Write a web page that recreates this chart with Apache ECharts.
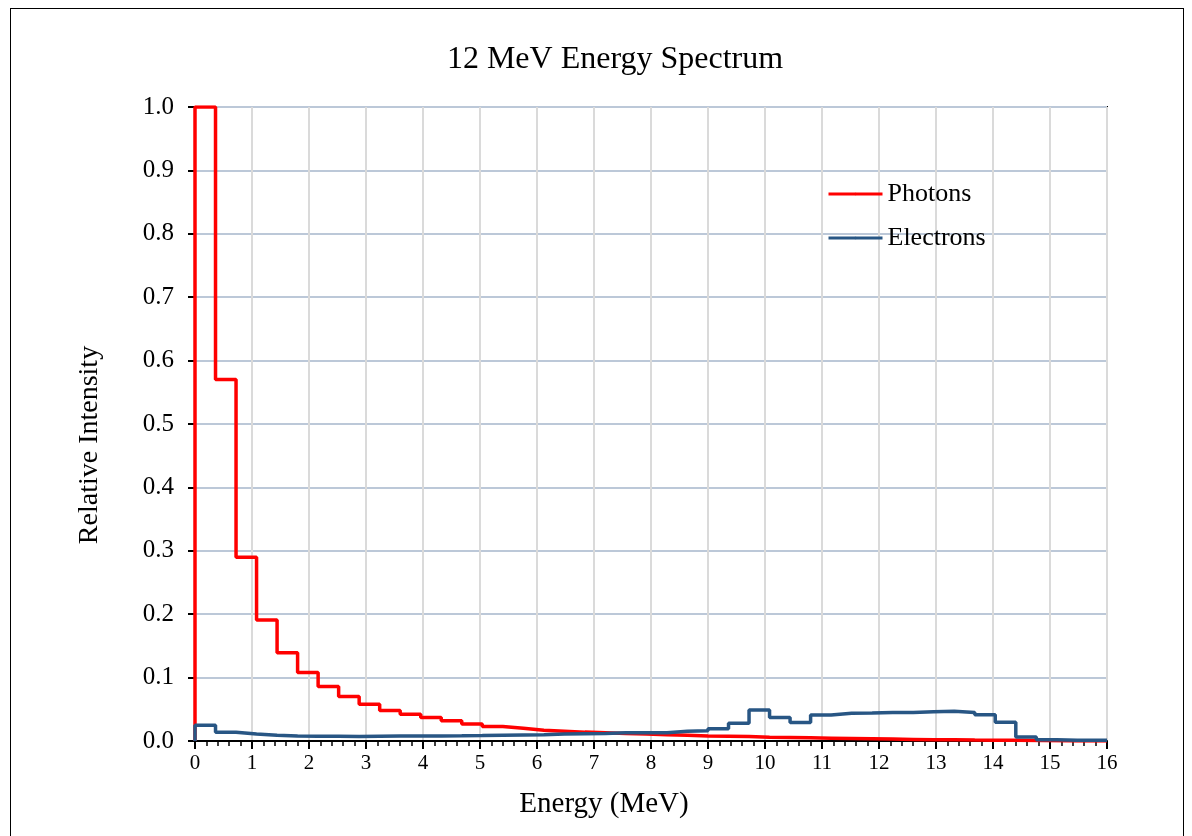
<!DOCTYPE html>
<html>
<head>
<meta charset="utf-8">
<script src="https://cdn.jsdelivr.net/npm/echarts@6/dist/echarts.min.js"></script>
<style>
html,body{margin:0;padding:0;background:#fff;}
#frame{position:absolute;left:10px;top:8px;width:1174px;height:840px;border:1.5px solid #000;box-sizing:border-box;}
#chart{position:absolute;left:0;top:0;width:1192px;height:836px;}
</style>
</head>
<body>
<div id="frame"></div>
<div id="chart"></div>
<script>
// Bin lower edges (MeV), bin width 0.36 MeV
const binEdges = [0, 0.36, 0.72, 1.08, 1.44, 1.8, 2.16, 2.52, 2.88, 3.24, 3.6, 3.96, 4.32, 4.68, 5.04, 5.4, 5.76, 6.12, 6.48, 6.84, 7.2, 7.56, 7.92, 8.28, 8.64, 9.0, 9.36, 9.72, 10.08, 10.44, 10.8, 11.16, 11.52, 11.88, 12.24, 12.6, 12.96, 13.32, 13.68, 14.04, 14.4, 14.76, 15.12, 15.48, 15.84];
const endEnergy = 16;
const photons = [1.0, 0.57, 0.29, 0.191, 0.139, 0.108, 0.086, 0.070, 0.058, 0.048, 0.042, 0.037, 0.032, 0.027, 0.023, 0.020, 0.017, 0.0155, 0.014, 0.013, 0.012, 0.011, 0.010, 0.009, 0.008, 0.0075, 0.007, 0.006, 0.0055, 0.005, 0.0045, 0.004, 0.0035, 0.003, 0.0025, 0.002, 0.002, 0.0015, 0.0012, 0.001, 0.0008, 0.0005, 0.0, 0.0, 0.0];
const electrons = [0.025, 0.0137, 0.011, 0.009, 0.0078, 0.0075, 0.0075, 0.0072, 0.0075, 0.0078, 0.008, 0.008, 0.0082, 0.0085, 0.009, 0.0095, 0.010, 0.011, 0.0115, 0.012, 0.013, 0.013, 0.013, 0.0155, 0.016, 0.0195, 0.028, 0.049, 0.037, 0.029, 0.041, 0.0437, 0.044, 0.045, 0.045, 0.046, 0.047, 0.045, 0.0415, 0.0295, 0.0063, 0.002, 0.001, 0.001, 0.001];
const yTicks = ['0.0','0.1','0.2','0.3','0.4','0.5','0.6','0.7','0.8','0.9','1.0'];
const titleText = '12 MeV Energy Spectrum';
const xName = 'Energy (MeV)';
const yName = 'Relative Intensity';

function stepData(vals) {
  const d = [[0, 0]];
  for (let i = 0; i < binEdges.length; i++) d.push([binEdges[i], vals[i]]);
  d.push([endEnergy, vals[vals.length - 1]]);
  return d;
}

const font = '"Liberation Serif", "Times New Roman", serif';
const chart = echarts.init(document.getElementById('chart'), null, {renderer: 'canvas'});
chart.setOption({
  animation: false,
  backgroundColor: 'transparent',
  graphic: [
    {type: 'text', x: 615, y: 60, style: {text: titleText, font: '32px ' + font, fill: '#000', align: 'center', verticalAlign: 'middle'}},
    {type: 'text', x: 604, y: 804, style: {text: xName, font: '29px ' + font, fill: '#000', align: 'center', verticalAlign: 'middle'}},
    {type: 'text', x: 90, y: 445, rotation: Math.PI / 2, style: {text: yName, font: '28px ' + font, fill: '#000', align: 'center', verticalAlign: 'middle'}}
  ],
  legend: {
    orient: 'vertical',
    left: 822, top: 176,
    itemWidth: 54, itemHeight: 3, itemGap: 18,
    textStyle: {fontFamily: font, fontSize: 26, color: '#000'},
    lineStyle: {width: 3},
    data: ['Photons', 'Electrons']
  },
  grid: {
    left: 195, right: 85, top: 107, bottom: 95,
    show: true, borderColor: '#000', borderWidth: 2
  },
  xAxis: {
    type: 'value', min: 0, max: 16, interval: 1,
    axisLine: {lineStyle: {color: '#000', width: 2}},
    axisTick: {show: true, length: 8, lineStyle: {color: '#000', width: 2}},
    minorTick: {show: true, splitNumber: 5, length: 5, lineStyle: {color: '#000', width: 1.5}},
    axisLabel: {fontFamily: font, fontSize: 21, color: '#000', margin: 12},
    splitLine: {show: true, lineStyle: {color: '#dadada', width: 2}}
  },
  yAxis: {
    type: 'value', min: 0, max: 1, interval: 0.1,
    axisLine: {show: true, lineStyle: {color: '#000', width: 2}},
    axisTick: {show: true, length: 7, lineStyle: {color: '#000', width: 2}},
    axisLabel: {fontFamily: font, fontSize: 25, color: '#000', margin: 21,
      formatter: function (v) { return yTicks[Math.round(v * 10)]; }},
    splitLine: {show: true, lineStyle: {color: '#bcc8d8', width: 2}}
  },
  series: [
    {
      name: 'Photons', type: 'line', step: 'end', showSymbol: false, symbol: 'none',
      data: stepData(photons), z: 2,
      lineStyle: {color: '#ff0000', width: 3.5}, itemStyle: {color: '#ff0000'}
    },
    {
      name: 'Electrons', type: 'line', step: 'end', showSymbol: false, symbol: 'none',
      data: stepData(electrons), z: 3,
      lineStyle: {color: '#285684', width: 3.5}, itemStyle: {color: '#285684'}
    }
  ]
});
</script>
</body>
</html>
